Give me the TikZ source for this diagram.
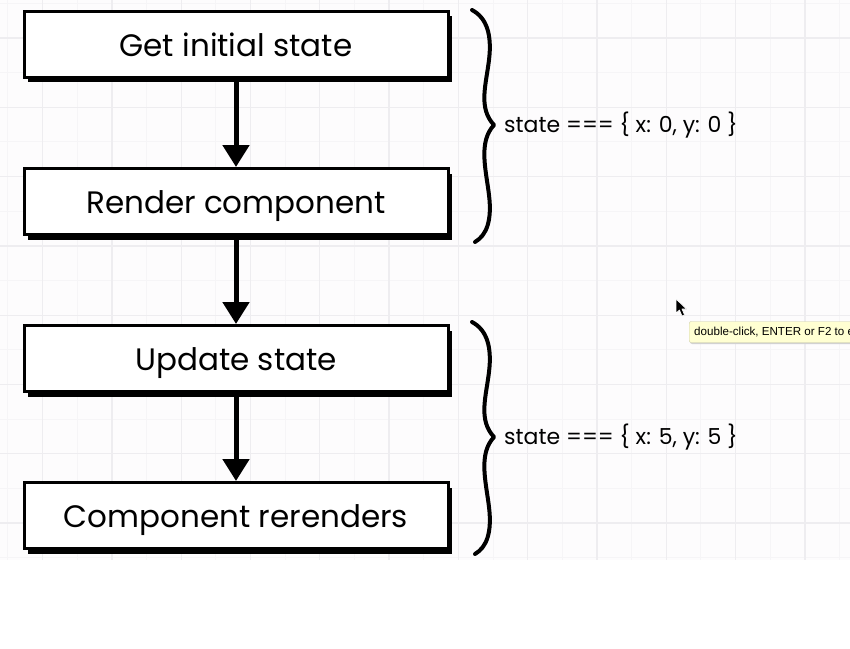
\documentclass[tikz,border=0pt]{standalone}
\usepackage{fontspec}
\setmainfont{Poppins}
\newfontfamily\tipfont{Liberation Sans}
\usetikzlibrary{arrows.meta,shadows}
\definecolor{gridbg}{HTML}{FDFCFD}
\definecolor{gridmaj}{HTML}{EEEDF0}
\definecolor{gridmin}{HTML}{F6F5F7}
\definecolor{tipbg}{HTML}{FFFFD2}
\begin{document}
\begin{tikzpicture}[x=1pt,y=-1pt,
  stepbox/.style={draw=black, line width=3pt, fill=white, minimum width=424pt, minimum height=66pt, inner sep=0pt,
    font=\fontsize{31}{34}\selectfont, text height=24pt, text depth=0pt,
    general shadow={shadow xshift=4pt, shadow yshift=-5pt, fill=black}},
  flow/.style={line width=5pt, -{Triangle[width=26pt,length=22pt]}},
  bracepath/.style={line width=4pt, line cap=round, line join=round},
  lbl/.style={anchor=west, font=\fontsize{22}{25}\selectfont, inner sep=0pt},
  tipbox/.style={fill=tipbg, draw=tipbg!80!black, line width=0.4pt, rounded corners=2pt, anchor=west,
    minimum height=21pt, inner xsep=5pt, inner ysep=0pt, font=\tipfont\fontsize{11.6}{14}\selectfont,
    general shadow={shadow xshift=1pt, shadow yshift=-1.5pt, fill=black!18}},
]
\useasboundingbox (0,0) rectangle (850,648);
\begin{scope}
\clip (0,0) rectangle (850,648);
\fill[white] (0,0) rectangle (850,648);
\fill[gridbg] (0,0) rectangle (850,560);
% minor grid
\foreach \i in {0,...,12} \draw[gridmin, line width=1pt] ({7.95+69.3*\i},0) -- ({7.95+69.3*\i},560);
\foreach \j in {0,...,8} \draw[gridmin, line width=1pt] (0,{3.35+69.3*\j}) -- (850,{3.35+69.3*\j});
% major grid
\foreach \i in {0,...,11} \draw[gridmaj, line width=1.3pt] ({42.6+69.3*\i},0) -- ({42.6+69.3*\i},560);
\foreach \j in {0,...,7} \draw[gridmaj, line width=1.3pt] (0,{38+69.3*\j}) -- (850,{38+69.3*\j});

\node[stepbox] (b1) at (236,44) {Get initial state};
\node[stepbox] (b2) at (236,201.5) {Render component};
\node[stepbox] (b3) at (236,358.5) {Update state};
\node[stepbox] (b4) at (236,515.5) {Component rerenders};

\draw[flow] (b1.south) -- (b2.north);
\draw[flow] (b2.south) -- (b3.north);
\draw[flow] (b3.south) -- (b4.north);

% braces
\draw[bracepath] (472,10) .. controls (487,18) and (492,35) .. (489,60)
  .. controls (486,85) and (478,108) .. (494,125)
  .. controls (478,142) and (486,170) .. (489,195)
  .. controls (492,220) and (487,235) .. (475,242);
\node[lbl] (s1) at (504,125) {state === \{ x: 0, y: 0 \}};

\draw[bracepath] (472,322) .. controls (487,330) and (492,347) .. (489,372)
  .. controls (486,397) and (478,420) .. (494,437)
  .. controls (478,454) and (486,482) .. (489,507)
  .. controls (492,532) and (487,547) .. (475,554);
\node[lbl] (s2) at (504,437) {state === \{ x: 5, y: 5 \}};

% tooltip
\node[tipbox] (tip) at (689,332) {double-click, ENTER or F2 to edit};

% cursor
\filldraw[fill=black, draw=white, line width=0.6pt, line join=round]
  (676,299) -- (676,313) -- (679.5,310) -- (682,316) -- (684.5,315) -- (682,309) -- (686.5,309) -- cycle;
\end{scope}
\end{tikzpicture}
\end{document}
